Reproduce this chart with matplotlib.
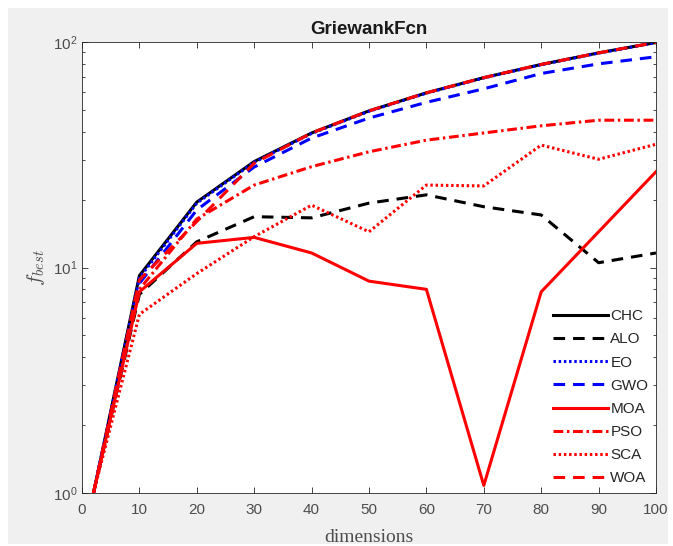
import matplotlib.pyplot as plt
from matplotlib.patches import Rectangle

# dimensions tested
dims = [2, 10, 20, 30, 40, 50, 60, 70, 80, 90, 100]

# best fitness per algorithm
chc = [1.0, 9.2, 19.5, 29.5, 39.5, 49.5, 59.5, 69.5, 79.5, 89.5, 99.5]
alo = [1.0, 7.6, 13.0, 16.8, 16.6, 19.3, 21.0, 18.6, 17.1, 10.5, 11.6]
eo = [1.0, 9.0, 19.3, 29.3, 39.3, 49.3, 59.3, 69.3, 79.3, 89.3, 99.3]
gwo = [1.0, 8.5, 18.0, 27.9, 37.5, 46.0, 54.0, 62.0, 72.5, 80.0, 86.0]
moa = [1.0, 7.8, 12.8, 13.6, 11.6, 8.7, 8.0, 1.08, 7.8, 14.4, 26.6]
pso = [1.0, 8.0, 16.4, 23.2, 28.0, 32.6, 36.7, 39.5, 42.5, 45.0, 45.0]
sca = [1.0, 6.2, 9.4, 13.7, 18.9, 14.4, 23.2, 23.0, 34.9, 30.2, 35.2]
woa = [1.0, 8.8, 16.0, 29.0, 39.5, 49.5, 59.5, 69.5, 79.5, 89.5, 99.5]

names = ["CHC", "ALO", "EO", "GWO", "MOA", "PSO", "SCA", "WOA"]
series = [chc, alo, eo, gwo, moa, pso, sca, woa]
colors = ["k", "k", "b", "b", "r", "r", "r", "r"]
solid = (None, None)
dashed = (3.8, 2.6)
dotted = (0.8, 0.9)
dashdot = (3.2, 1.2, 0.8, 1.2)
styles = [solid, dashed, dotted, dashed, solid, dashdot, dotted, dashed]

plt.rcParams['font.family'] = ['Liberation Sans', 'DejaVu Sans']
plt.rcParams['mathtext.fontset'] = 'cm'

fig = plt.figure(figsize=(6.73, 5.46), dpi=100)
fig.patches.append(Rectangle((8/673, 2/546), 660/673, 536/546,
                             transform=fig.transFigure, facecolor='#f0f0f0',
                             edgecolor='none', zorder=-10))
ax = fig.add_axes([82/673, 1 - 493/546, (656 - 82)/673, (493 - 42)/546])

for name, vals, c, st in zip(names, series, colors, styles):
    line, = ax.plot(dims, vals, color=c, lw=2.2, label=name)
    if st[0] is not None:
        line.set_dashes(st)

ax.set_yscale('log')
ax.set_xlim(0, 100)
ax.set_ylim(1, 100)
ax.set_xticks(range(0, 101, 10))
ax.tick_params(which='both', direction='in', top=True, right=True,
               labelsize=11, colors='#262626', labelcolor='#4d4d4d', width=0.6)
ax.tick_params(axis='x', which='major', pad=7)
ax.tick_params(which='major', length=4)
ax.tick_params(which='minor', length=2)
for s in ax.spines.values():
    s.set_color('#262626')
    s.set_linewidth(0.6)

ax.set_title("GriewankFcn", fontsize=13.5, fontweight='bold', color='#1a1a1a', pad=6)
ax.set_xlabel("dimensions", family='Liberation Serif', fontsize=14, color='#4d4d4d', labelpad=9)
ax.set_ylabel(r"$f_{best}$", fontsize=15, color='#4d4d4d', labelpad=4)

leg = ax.legend(loc='lower right', frameon=False, fontsize=11, handlelength=3.6,
                handletextpad=0.15, labelspacing=0.6, borderaxespad=0.1)
for t in leg.get_texts():
    t.set_color('#262626')

fig.savefig("out.png", dpi=100, facecolor='white')
